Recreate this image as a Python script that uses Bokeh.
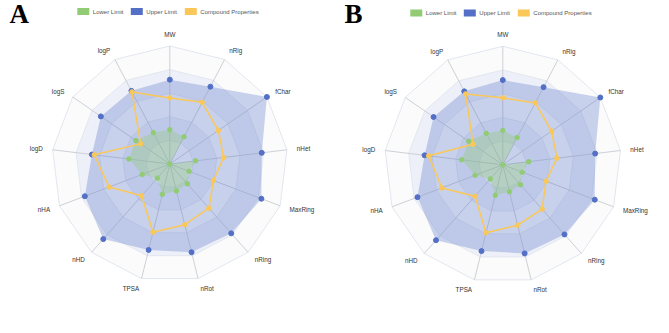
import math
from bokeh.plotting import figure
from bokeh.models import Range1d
from bokeh.core.properties import value
from bokeh.embed import file_html
from bokeh.resources import INLINE

# Radar indicators, clockwise from the top
categories = ["MW", "nRig", "fChar", "nHet", "MaxRing", "nRing", "nRot",
              "TPSA", "nHD", "nHA", "logD", "logS", "logP"]

# Values as percent of each indicator's maximum
lower_limit = [29, 26, 0, 22, 17.5, 22.5, 23.5, 26.5, 16, 25, 35, 35, 30]
upper_limit = [71.5, 74, 100, 78.5, 83, 78.5, 77, 75, 85, 77, 66.5, 71, 70]
compound_a = [56, 59, 50, 46, 39.5, 50, 53, 59.5, 36, 55, 64.5, 30, 69]
compound_b = [56.5, 59, 50, 46, 39, 50, 52.5, 59, 35.5, 55, 63, 30.5, 67.5]

series_names = ["Lower Limit", "Upper Limit", "Compound Properties"]
panel_letters = ["A", "B"]

GREEN = "#91cc75"
BLUE = "#5470c6"
ORANGE = "#fac858"
FONT = "Liberation Sans"

W, H = 669, 333
p = figure(width=W, height=H, output_backend="svg", toolbar_location=None,
           x_range=Range1d(0, W), y_range=Range1d(H, 0),
           min_border=0, outline_line_color=None, background_fill_color="white")
p.axis.visible = False
p.grid.visible = False

n = len(categories)
angles = [2 * math.pi * i / n for i in range(n)]


def polar(cx, cy, radius, vals, vmax=100.0):
    xs = [cx + radius * v / vmax * math.sin(a) for v, a in zip(vals, angles)]
    ys = [cy - radius * v / vmax * math.cos(a) for v, a in zip(vals, angles)]
    return xs, ys


def draw_radar(cx, cy, R, compound, letter, letter_x, legend_y):
    # alternating split areas (outer to inner so inner ones paint on top)
    band_colors = ["#fbfbfc", "#edf0f8", "#fbfbfc", "#edf0f8", "#fbfbfc"]
    for k in range(5, 0, -1):
        xs, ys = polar(cx, cy, R, [k * 20] * n)
        p.patch(xs, ys, fill_color=band_colors[k - 1], line_color="#e2e6ee",
                line_width=1)
    # spokes
    ex, ey = polar(cx, cy, R, [100] * n)
    p.segment(x0=[cx] * n, y0=[cy] * n, x1=ex, y1=ey,
              line_color="#cdd0d6", line_width=1)

    # series areas
    bx, by = polar(cx, cy, R, upper_limit)
    p.patch(bx, by, fill_color=BLUE, fill_alpha=0.3, line_color=None)
    gx, gy = polar(cx, cy, R, lower_limit)
    p.patch(gx, gy, fill_color=GREEN, fill_alpha=0.35, line_color=None)
    p.scatter(bx, by, size=5, fill_color=BLUE, line_color=BLUE)
    p.scatter(gx, gy, size=4.5, fill_color=GREEN, line_color=GREEN)
    ox, oy = polar(cx, cy, R, compound)
    p.line(ox + ox[:1], oy + oy[:1], line_color=ORANGE, line_width=1.5)
    p.scatter(ox, oy, size=4.5, fill_color=ORANGE, line_color=ORANGE)

    # indicator names
    lx, ly = polar(cx, cy, R + 10, [100] * n)
    groups = {"left": [], "right": [], "center": []}
    for name, x, y, a in zip(categories, lx, ly, angles):
        s = math.sin(a)
        key = "center" if abs(s) < 0.05 else ("left" if s > 0 else "right")
        if key == "center":
            y -= 2
        groups[key].append((name, x, y))
    for align, items in groups.items():
        if not items:
            continue
        p.text(x=[t[1] for t in items], y=[t[2] for t in items],
               text=[t[0] for t in items], text_align=align,
               text_baseline="middle", text_font=value(FONT),
               text_font_size="6.3px", text_color="#333333")

    # legend
    sw_offsets = [-86.5, -33, 21]
    colors = [GREEN, BLUE, ORANGE]
    for off, col, label in zip(sw_offsets, colors, series_names):
        p.rect(x=[cx + off], y=[legend_y], width=12, height=7,
               fill_color=col, line_color=None)
        p.text(x=[cx + off + 9.5], y=[legend_y], text=[label],
               text_baseline="middle", text_font=value(FONT),
               text_font_size="6px", text_color="#555555")

    # panel letter
    p.text(x=[letter_x], y=[13], text=[letter], text_baseline="alphabetic",
           text_font=value("Liberation Serif"), text_font_size="27px",
           text_font_style="bold", text_color="#000000")


draw_radar(169.3, 163.5, 118, compound_a, panel_letters[0], 9, 11)
draw_radar(502.3, 164.3, 118.5, compound_b, panel_letters[1], 344, 12.5)

open("out.html", "w").write(file_html(p, INLINE))
